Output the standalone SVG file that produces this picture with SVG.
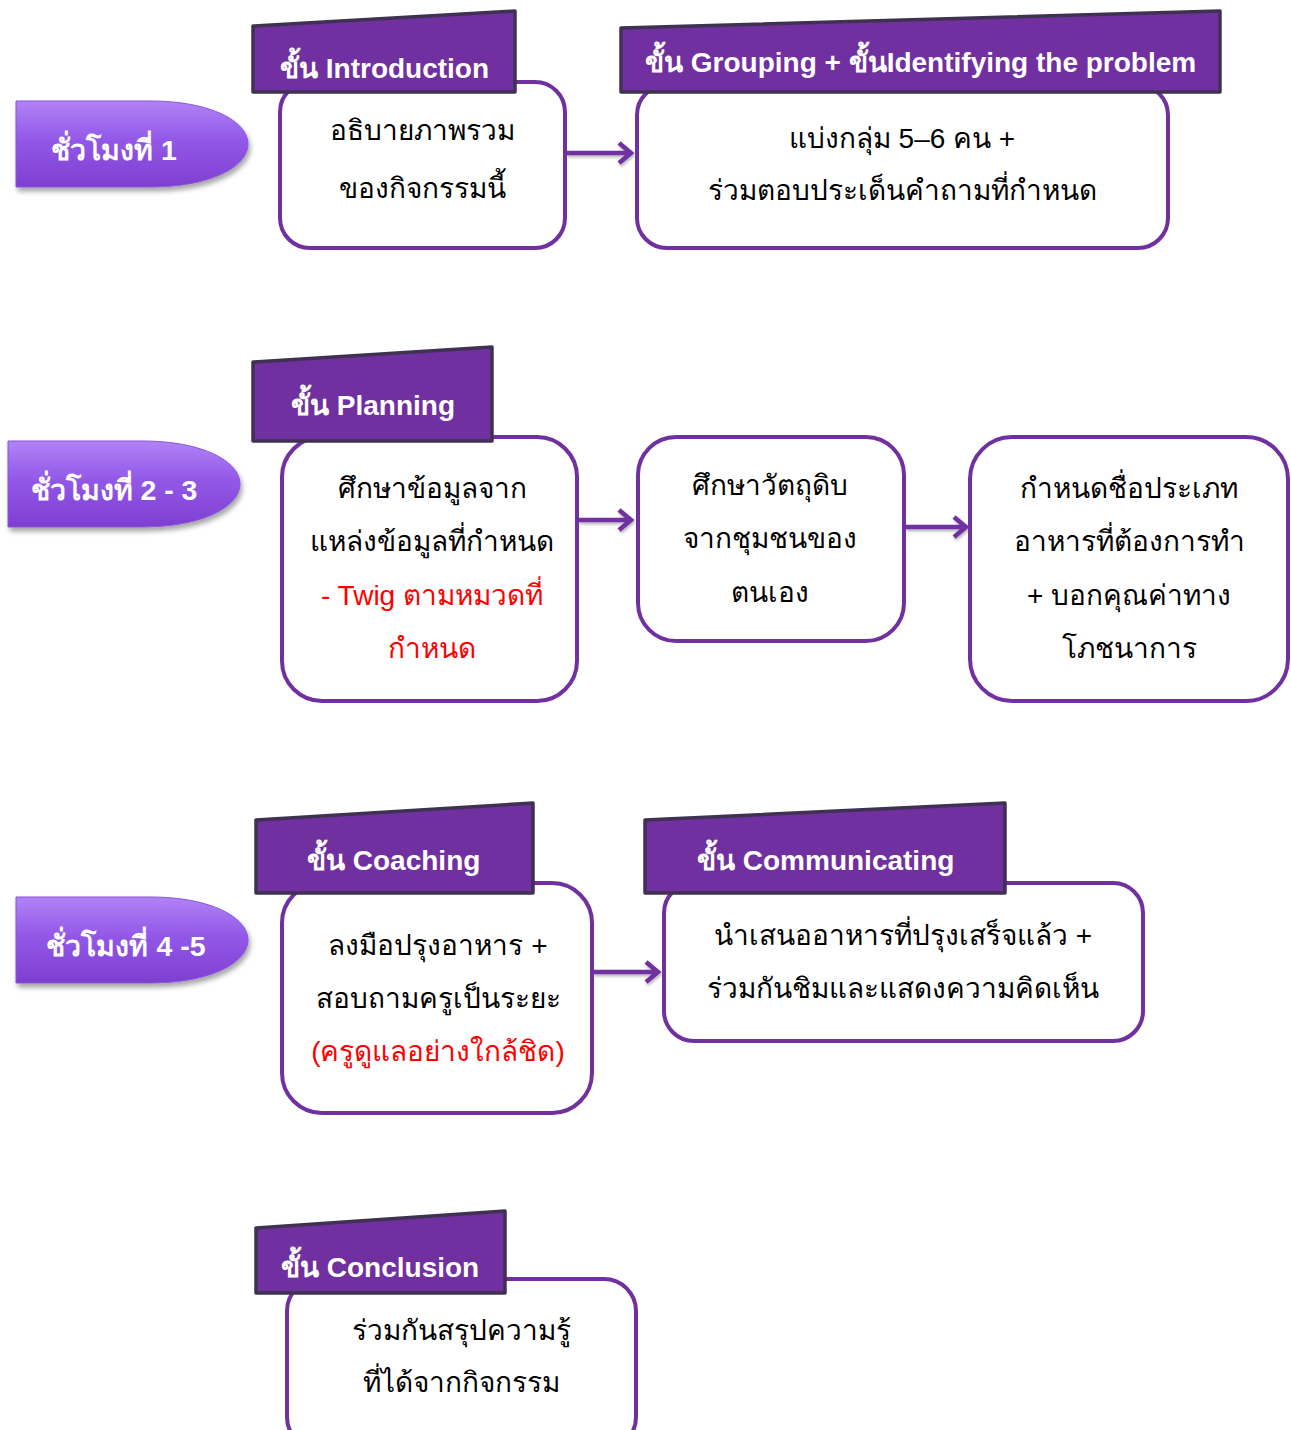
<svg xmlns="http://www.w3.org/2000/svg" width="1291" height="1430" viewBox="0 0 1291 1430">
<style>
.box{fill:#fff;stroke:#7030a0;stroke-width:4}
.ban{fill:#7030a0;stroke:#3f3151;stroke-width:3.5;stroke-linejoin:round}
.bt{font-family:"Liberation Sans",Arial,sans-serif;font-weight:bold;font-size:28px;fill:#fff}
.tt{font-family:"Liberation Sans",Arial,sans-serif;font-weight:bold;font-size:28.5px;fill:#fff;text-anchor:middle}
.t{font-family:"Liberation Sans",Arial,sans-serif;font-size:28px;fill:#000;text-anchor:middle}
.r{fill:#ff0000}
.tab{fill:url(#tg);stroke:#8a55d8;stroke-width:1;filter:url(#sh)}
.con{fill:none;stroke:#7030a0;stroke-width:4.5;filter:url(#ash)}
</style>
<defs>
<linearGradient id="tg" x1="0" y1="0" x2="0" y2="1">
<stop offset="0" stop-color="#b083f5"/>
<stop offset="0.45" stop-color="#9358e8"/>
<stop offset="1" stop-color="#7e3fcf"/>
</linearGradient>
<filter id="sh" x="-10%" y="-10%" width="130%" height="140%">
<feDropShadow dx="2" dy="4" stdDeviation="2.5" flood-color="#000" flood-opacity="0.35"/>
</filter>
<filter id="ash" x="-20%" y="-50%" width="140%" height="200%">
<feDropShadow dx="1" dy="2" stdDeviation="1.5" flood-color="#000" flood-opacity="0.3"/>
</filter>
</defs>

<g id="tab1"><path class="tab" d="M16,101 L150,101 C212,101 248,122 248,144 C248,166 212,187 150,187 L16,187 Z"/><text class="tt" x="114" y="160">ชั่วโมงที่ 1</text></g>
<g id="tab2"><path class="tab" d="M8,441 L142,441 C204,441 240,462 240,484 C240,506 204,527 142,527 L8,527 Z"/><text class="tt" x="114" y="500">ชั่วโมงที่ 2 - 3</text></g>
<g id="tab3"><path class="tab" d="M16,897 L150,897 C212,897 248,918 248,940 C248,962 212,983 150,983 L16,983 Z"/><text class="tt" x="126" y="956">ชั่วโมงที่ 4 -5</text></g>

<g id="connectors">
<path class="con" d="M566,153 H630 M619,143 L631,153 L619,163"/>
<path class="con" d="M578,520 H630 M619,510 L631,520 L619,530"/>
<path class="con" d="M905,527 H965 M954,517 L966,527 L954,537"/>
<path class="con" d="M593,972 H657 M646,962 L658,972 L646,982"/>
</g>

<g id="intro">
<rect class="box" x="280" y="82" width="285" height="166" rx="30"/>
<path class="ban" d="M253,26 L515,11 L515,92 L253,92 Z"/>
<text class="bt" x="280" y="78">ขั้น Introduction</text>
<text class="t" x="422" y="140">อธิบายภาพรวม</text>
<text class="t" x="422" y="198">ของกิจกรรมนี้</text>
</g>

<g id="grouping">
<rect class="box" x="637" y="85" width="531" height="163" rx="30"/>
<path class="ban" d="M621,28 L1220,11 L1220,92 L621,92 Z"/>
<text class="bt" x="645" y="72">ขั้น Grouping + ขั้นIdentifying the problem</text>
<text class="t" x="902" y="148">แบ่งกลุ่ม 5–6 คน +</text>
<text class="t" x="902" y="200">ร่วมตอบประเด็นคำถามที่กำหนด</text>
</g>

<g id="planning">
<rect class="box" x="282" y="437" width="295" height="264" rx="40"/>
<path class="ban" d="M253,362 L492,347 L492,441 L253,441 Z"/>
<text class="bt" x="291" y="415">ขั้น Planning</text>
<text class="t" x="432" y="498">ศึกษาข้อมูลจาก</text>
<text class="t" x="432" y="551">แหล่งข้อมูลที่กำหนด</text>
<text class="t r" x="432" y="605">- Twig ตามหมวดที่</text>
<text class="t r" x="432" y="658">กำหนด</text>
</g>

<g id="material">
<rect class="box" x="638" y="437" width="266" height="204" rx="38"/>
<text class="t" x="770" y="495">ศึกษาวัตถุดิบ</text>
<text class="t" x="770" y="548">จากชุมชนของ</text>
<text class="t" x="770" y="602">ตนเอง</text>
</g>

<g id="naming">
<rect class="box" x="970" y="437" width="318" height="264" rx="42"/>
<text class="t" x="1129" y="498">กำหนดชื่อประเภท</text>
<text class="t" x="1129" y="551">อาหารที่ต้องการทำ</text>
<text class="t" x="1129" y="605">+ บอกคุณค่าทาง</text>
<text class="t" x="1129" y="658">โภชนาการ</text>
</g>

<g id="coaching">
<rect class="box" x="282" y="883" width="310" height="230" rx="40"/>
<path class="ban" d="M256,820 L533,803 L533,893 L256,893 Z"/>
<text class="bt" x="307" y="870">ขั้น Coaching</text>
<text class="t" x="438" y="955">ลงมือปรุงอาหาร +</text>
<text class="t" x="438" y="1008">สอบถามครูเป็นระยะ</text>
<text class="t r" x="438" y="1061">(ครูดูแลอย่างใกล้ชิด)</text>
</g>

<g id="communicating">
<rect class="box" x="664" y="883" width="479" height="158" rx="30"/>
<path class="ban" d="M645,820 L1005,803 L1005,893 L645,893 Z"/>
<text class="bt" x="697" y="870">ขั้น Communicating</text>
<text class="t" x="903" y="945">นำเสนออาหารที่ปรุงเสร็จแล้ว +</text>
<text class="t" x="903" y="998">ร่วมกันชิมและแสดงความคิดเห็น</text>
</g>

<g id="conclusion">
<rect class="box" x="287" y="1279" width="349" height="170" rx="32"/>
<path class="ban" d="M256,1228 L505,1211 L505,1293 L256,1293 Z"/>
<text class="bt" x="281" y="1277">ขั้น Conclusion</text>
<text class="t" x="461" y="1340">ร่วมกันสรุปความรู้</text>
<text class="t" x="461" y="1392">ที่ได้จากกิจกรรม</text>
</g>
</svg>
